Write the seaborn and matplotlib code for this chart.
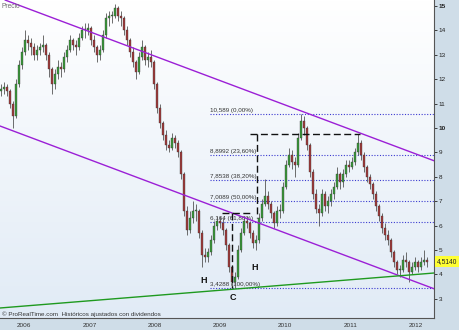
import numpy as np
import pandas as pd
import matplotlib
matplotlib.use("Agg")
import matplotlib.pyplot as plt
import matplotlib.dates as mdates
from matplotlib.colors import LinearSegmentedColormap
import seaborn as sns

# ---------------- data ----------------
start_date = "2005-08-25"
end_date = "2012-03-03"

opens = [11.5, 11.6, 11.7, 11.5, 11.0, 10.5, 11.8, 12.6, 13.1, 13.6,
         13.5, 13.3, 13.0, 13.2, 13.3, 13.4, 13.0, 12.4, 11.8, 12.2,
         12.5, 12.4, 12.9, 13.2, 13.6, 13.4, 13.3, 13.7, 14.0, 14.0,
         14.1, 13.6, 13.3, 13.0, 13.2, 13.8, 14.5, 14.6, 14.6, 14.9,
         14.6, 14.5, 14.0, 13.6, 13.1, 12.7, 12.3, 12.9, 13.3, 12.8,
         12.9, 12.7, 11.8, 10.8, 10.2, 9.7, 9.3, 9.2, 9.6, 9.4,
         9.0, 8.1, 6.6, 5.8, 6.3, 6.6, 6.6, 5.7, 4.8, 4.7,
         4.9, 5.4, 6.0, 6.2, 6.1, 5.8, 5.2, 4.3, 3.7, 3.9,
         5.0, 5.7, 6.2, 6.1, 5.7, 5.3, 5.4, 6.3, 6.9, 7.2,
         6.9, 6.5, 6.1, 6.6, 6.6, 7.6, 8.5, 8.9, 8.6, 8.5,
         9.6, 10.3, 10.0, 9.3, 8.2, 7.3, 6.7, 6.5, 7.3, 6.8,
         7.0, 7.3, 7.6, 8.1, 7.8, 8.1, 8.5, 8.4, 8.6, 9.0,
         9.4, 8.9, 8.4, 8.0, 7.7, 7.3, 6.8, 6.4, 5.9, 5.6,
         5.4, 4.9, 4.5, 4.2, 4.2, 4.6, 4.5, 4.1, 4.3, 4.5,
         4.3, 4.5, 4.6]
highs = [11.8, 11.9, 11.8, 11.6, 11.1, 12.0, 12.8, 13.3, 14.0, 13.8,
         13.7, 13.5, 13.4, 13.5, 13.8, 13.5, 13.1, 12.5, 12.4, 12.8,
         12.7, 13.1, 13.4, 13.8, 13.7, 13.6, 13.9, 14.2, 14.3, 14.3,
         14.2, 13.8, 13.4, 13.4, 14.0, 14.7, 14.8, 14.8, 15.1, 15.0,
         14.8, 14.6, 14.2, 13.7, 13.3, 12.8, 13.1, 13.6, 13.4, 13.1,
         13.2, 12.8, 11.9, 11.0, 10.3, 9.9, 9.5, 9.8, 9.7, 9.5,
         9.1, 8.2, 6.8, 6.6, 7.0, 6.9, 6.7, 5.8, 5.1, 5.1,
         5.6, 6.2, 6.4, 6.4, 6.3, 5.9, 5.3, 4.4, 4.1, 5.2,
         5.9, 6.4, 6.4, 6.2, 5.8, 5.6, 6.5, 7.1, 7.9, 7.4,
         7.0, 6.6, 6.8, 6.9, 7.8, 8.7, 9.2, 9.1, 8.8, 9.8,
         10.59, 10.5, 10.1, 9.4, 8.3, 7.5, 6.9, 7.5, 7.4, 7.2,
         7.5, 7.8, 8.4, 8.2, 8.3, 8.7, 8.7, 8.8, 9.2, 9.75,
         9.5, 9.0, 8.5, 8.1, 7.8, 7.4, 6.9, 6.5, 6.1, 5.8,
         5.5, 5.0, 4.6, 4.4, 4.8, 4.9, 4.6, 4.5, 4.7, 4.6,
         4.7, 5.0, 4.7]
lows = [11.3, 11.4, 11.3, 10.8, 10.0, 10.4, 11.7, 12.4, 13.0, 13.2,
        13.0, 12.8, 12.8, 13.0, 13.1, 12.8, 12.1, 11.4, 11.6, 12.0,
        12.1, 12.3, 12.7, 13.1, 13.2, 13.0, 13.2, 13.6, 13.7, 13.8,
        13.4, 13.1, 12.7, 12.8, 13.1, 13.7, 14.2, 14.3, 14.5, 14.4,
        14.2, 13.8, 13.4, 12.9, 12.5, 12.0, 12.2, 12.8, 12.6, 12.5,
        12.5, 11.6, 10.6, 10.0, 9.5, 9.1, 9.0, 9.1, 9.2, 8.8,
        7.9, 6.4, 5.6, 5.7, 6.1, 6.2, 5.5, 4.3, 4.5, 4.5,
        4.8, 5.3, 5.8, 5.9, 5.6, 5.0, 4.1, 3.5, 3.43, 3.8,
        4.9, 5.6, 5.9, 5.5, 5.1, 5.0, 5.3, 6.2, 6.8, 6.7,
        6.3, 5.9, 6.0, 6.3, 6.5, 7.5, 8.4, 8.3, 8.0, 8.4,
        9.5, 9.7, 9.1, 8.0, 7.1, 6.5, 6.0, 6.4, 6.6, 6.5,
        6.8, 7.1, 7.5, 7.5, 7.6, 8.0, 8.2, 8.3, 8.5, 8.9,
        8.7, 8.2, 7.8, 7.5, 7.1, 6.6, 6.2, 5.7, 5.4, 5.2,
        4.7, 4.3, 4.0, 3.9, 4.1, 4.3, 3.7, 4.0, 4.2, 4.1,
        4.2, 4.4, 4.3]
closes = [11.6, 11.7, 11.5, 11.0, 10.5, 11.8, 12.6, 13.1, 13.6, 13.5,
          13.3, 13.0, 13.2, 13.3, 13.4, 13.0, 12.4, 11.8, 12.2, 12.5,
          12.4, 12.9, 13.2, 13.6, 13.4, 13.3, 13.7, 14.0, 14.0, 14.1,
          13.6, 13.3, 13.0, 13.2, 13.8, 14.5, 14.6, 14.6, 14.9, 14.6,
          14.5, 14.0, 13.6, 13.1, 12.7, 12.3, 12.9, 13.3, 12.8, 12.9,
          12.7, 11.8, 10.8, 10.2, 9.7, 9.3, 9.2, 9.6, 9.4, 9.0,
          8.1, 6.6, 5.8, 6.3, 6.6, 6.6, 5.7, 4.8, 4.7, 4.9,
          5.4, 6.0, 6.2, 6.1, 5.8, 5.2, 4.3, 3.7, 3.9, 5.0,
          5.7, 6.2, 6.1, 5.7, 5.3, 5.4, 6.3, 6.9, 7.2, 6.9,
          6.5, 6.1, 6.6, 6.6, 7.6, 8.5, 8.9, 8.6, 8.5, 9.6,
          10.3, 10.0, 9.3, 8.2, 7.3, 6.7, 6.5, 7.3, 6.8, 7.0,
          7.3, 7.6, 8.1, 7.8, 8.1, 8.5, 8.4, 8.6, 9.0, 9.4,
          8.9, 8.4, 8.0, 7.7, 7.3, 6.8, 6.4, 5.9, 5.6, 5.4,
          4.9, 4.5, 4.2, 4.2, 4.6, 4.5, 4.1, 4.3, 4.5, 4.3,
          4.5, 4.6, 4.514]

fib_levels = [10.589, 8.8992, 7.8538, 7.0089, 6.164, 3.4288]
fib_labels = ["10,589 (0,00%)", "8,8992 (23,60%)", "7,8538 (38,20%)",
              "7,0089 (50,00%)", "6,164 (61,80%)", "3,4288 (100,00%)"]
fib_start = "2008-11-05"

upper_dates = ["2005-09-16", "2012-04-13"]
upper_vals = [15.246, 8.658]
lower_dates = ["2005-08-19", "2012-04-13"]
lower_vals = [10.082, 3.412]
support_dates = ["2005-08-19", "2012-04-13"]
support_vals = [2.623, 4.057]

target_h_dates = ["2009-06-17", "2011-02-22"]
target_h_vals = [9.75, 9.75]
target_v_dates = ["2009-07-26", "2009-07-26"]
target_v_vals = [9.75, 6.3]
neck_dates = ["2009-01-12", "2009-06-29"]
neck_vals = [6.5, 6.5]
depth_dates = ["2009-03-08", "2009-03-08"]
depth_vals = [6.5, 3.43]

pattern_text = ["H", "C", "H"]
pattern_dates = ["2008-10-03", "2009-03-14", "2009-07-15"]
pattern_vals = [3.73, 3.07, 4.30]

year_labels = ["2006", "2007", "2008", "2009", "2010", "2011", "2012"]
price_ticks = [3, 4, 5, 6, 7, 8, 9, 10, 11, 12, 13, 14, 15]
last_price = 4.514
last_price_text = "4,5140"
x_limits = ["2005-08-19", "2012-04-13"]
y_limits = [2.213, 15.246]

# ---------------- style ----------------
sns.set_theme(style="white")
plt.rcParams["font.family"] = ["Liberation Sans", "DejaVu Sans"]

panel = "#cfdde8"
fig = plt.figure(figsize=(4.6, 3.3), dpi=100, facecolor=panel)
ax = fig.add_axes([0, 12 / 330, 434 / 460, 318 / 330])

cmap = LinearSegmentedColormap.from_list("bg", ["#e1ebf6", "#ffffff"])
ax.imshow(np.linspace(0, 1, 256).reshape(-1, 1), extent=[0, 1, 0, 1],
          transform=ax.transAxes, aspect="auto", cmap=cmap, origin="lower",
          zorder=0)

d = lambda s: mdates.date2num(pd.to_datetime(s))
dates = mdates.date2num(pd.date_range(start_date, end_date, periods=len(closes)))

df = pd.DataFrame({"t": dates, "o": opens, "h": highs, "l": lows, "c": closes})
up = df["c"] >= df["o"]


def seg(xs, ys, **kw):
    sns.lineplot(x=xs, y=ys, ax=ax, estimator=None, sort=False,
                 errorbar=None, **kw)


# fibonacci retracement lines
x_right = d(x_limits[1])
for lvl, lab in zip(fib_levels, fib_labels):
    seg([d(fib_start), x_right], [lvl, lvl], color="#3b3bd0", lw=0.8,
        linestyle=(0, (1, 1.5)), zorder=1)
    ax.text(d(fib_start) + 4, lvl + 0.04, lab, fontsize=4.5, color="#333333",
            va="bottom", ha="left", zorder=2)

# candles
ax.vlines(df["t"], df["l"], df["h"], color="#555555", lw=0.6, zorder=3)
body_h = np.maximum((df["c"] - df["o"]).abs(), 0.04)
body_b = np.minimum(df["c"], df["o"])
ax.bar(df["t"], body_h, bottom=body_b, width=10,
       color=np.where(up, "#3a9a3a", "#a23a3a"),
       edgecolor="#333333", linewidth=0.25, zorder=3.5)

# channel and support lines
seg([d(s) for s in upper_dates], upper_vals, color="#9b1fd6", lw=1.0, zorder=4)
seg([d(s) for s in lower_dates], lower_vals, color="#9b1fd6", lw=1.0, zorder=4)
seg([d(s) for s in support_dates], support_vals, color="#1f9a1f", lw=1.0, zorder=4)

# dashed measurement lines
for xs, ys in [(target_h_dates, target_h_vals), (target_v_dates, target_v_vals),
               (neck_dates, neck_vals), (depth_dates, depth_vals)]:
    seg([d(s) for s in xs], ys, color="#111111", lw=1.0,
        linestyle=(0, (5, 2.5)), zorder=4.5)

for txt, ds, v in zip(pattern_text, pattern_dates, pattern_vals):
    ax.text(d(ds), v, txt, fontsize=6.5, fontweight="bold", color="#111111",
            ha="center", va="center", zorder=5)

# axes formatting
ax.set_xlim(d(x_limits[0]), d(x_limits[1]))
ax.set_ylim(*y_limits)
ax.set_xlabel("")
ax.set_ylabel("")

ax.set_xticks([d(f"{y}-01-01") for y in year_labels], year_labels)
ax.tick_params(axis="x", length=0, pad=3.5, labelsize=4.6, colors="#333333")

ax.yaxis.tick_right()
ax.set_yticks(price_ticks, [str(p) for p in price_ticks])
ax.tick_params(axis="y", direction="out", length=2, width=0.6, pad=1.5,
               labelsize=4.6, colors="#222222")
for lab in ax.get_yticklabels():
    if lab.get_text() in ("15", "10"):
        lab.set_fontweight("bold")

for side in ("top", "left"):
    ax.spines[side].set_visible(False)
for side in ("right", "bottom"):
    ax.spines[side].set_visible(True)
    ax.spines[side].set_color("#555555")
    ax.spines[side].set_linewidth(0.8)

ax.text(2 / 434, 1 - 6 / 318, "Precio", transform=ax.transAxes, fontsize=4.8,
        color="#6e6e6e", ha="left", va="center", zorder=6)
ax.text(2 / 434, 0.004, "\u00a9 ProRealTime.com  Hist\u00f3ricos ajustados con dividendos",
        transform=ax.transAxes, fontsize=4.5, color="#333333", ha="left",
        va="bottom", zorder=6)

ax.text(1.007, last_price, last_price_text, transform=ax.get_yaxis_transform(),
        fontsize=4.8, color="#222222", ha="left", va="center", zorder=6,
        clip_on=False,
        bbox=dict(boxstyle="square,pad=0.3", fc="#ffff33", ec="none"))

if ax.get_legend() is not None:
    ax.get_legend().remove()

fig.savefig("out.png", dpi=100, facecolor=panel)
